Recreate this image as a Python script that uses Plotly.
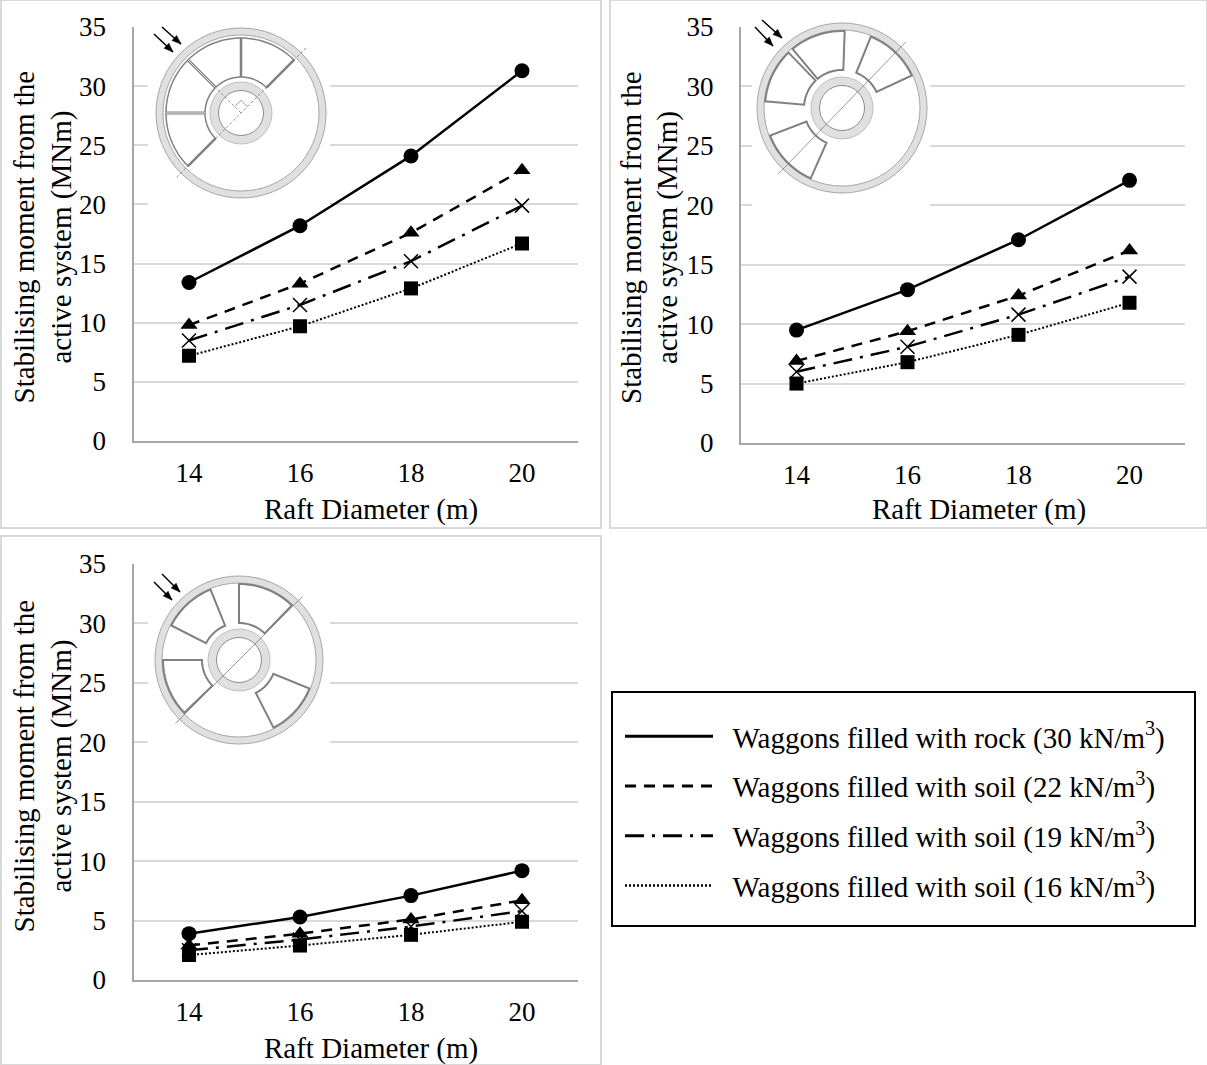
import math
import plotly.graph_objects as go

W, H = 1207, 1065
FONT = "Liberation Serif"

diameters = ["14", "16", "18", "20"]
y_ticks = [0, 5, 10, 15, 20, 25, 30, 35]

series_names = [
    "Waggons filled with rock (30 kN/m<sup>3</sup>)",
    "Waggons filled with soil (22 kN/m<sup>3</sup>)",
    "Waggons filled with soil (19 kN/m<sup>3</sup>)",
    "Waggons filled with soil (16 kN/m<sup>3</sup>)",
]
panel1_rock = [13.4, 18.2, 24.1, 31.3]
panel1_soil22 = [9.8, 13.3, 17.6, 22.9]
panel1_soil19 = [8.5, 11.5, 15.2, 19.9]
panel1_soil16 = [7.2, 9.7, 12.9, 16.7]
panel2_rock = [9.5, 12.9, 17.1, 22.1]
panel2_soil22 = [6.9, 9.4, 12.4, 16.2]
panel2_soil19 = [6.0, 8.1, 10.8, 14.0]
panel2_soil16 = [5.0, 6.8, 9.1, 11.8]
panel3_rock = [3.9, 5.3, 7.1, 9.2]
panel3_soil22 = [2.9, 3.9, 5.1, 6.7]
panel3_soil19 = [2.5, 3.4, 4.5, 5.8]
panel3_soil16 = [2.1, 2.9, 3.8, 4.9]

dashes = ["solid", "11px,8px", "19px,8px,3px,8px", "2px,2px"]
symbols = ["circle", "triangle-up", "x-thin", "square"]
msizes = [15, 15, 14, 14]

panels = [
    dict(sfx="", xa="xaxis", ya="yaxis", left=133.5, right=577.5, top=27, bottom=441, mid=237,
         xtitle_x=371, xtitle_y=509,
         series=[panel1_rock, panel1_soil22, panel1_soil19, panel1_soil16]),
    dict(sfx="2", xa="xaxis2", ya="yaxis2", left=741, right=1185, top=27, bottom=443, mid=238,
         xtitle_x=979, xtitle_y=509,
         series=[panel2_rock, panel2_soil22, panel2_soil19, panel2_soil16]),
    dict(sfx="3", xa="xaxis3", ya="yaxis3", left=133.5, right=577.5, top=564, bottom=980, mid=766,
         xtitle_x=371, xtitle_y=1048,
         series=[panel3_rock, panel3_soil22, panel3_soil19, panel3_soil16]),
]


def px(x):
    return x / W


def py(y):
    return 1 - y / H


fig = go.Figure()
shapes, annotations = [], []


def rect(x0, y0, x1, y1, line="rgba(0,0,0,0)", lw=0, fill="rgba(0,0,0,0)"):
    shapes.append(dict(type="rect", xref="paper", yref="paper", layer="above",
                       x0=px(x0), x1=px(x1), y0=py(y0), y1=py(y1),
                       line=dict(color=line, width=lw), fillcolor=fill))


def circle(cx, cy, r, line, lw, fill):
    shapes.append(dict(type="circle", xref="paper", yref="paper", layer="above",
                       x0=px(cx - r), x1=px(cx + r), y0=py(cy + r), y1=py(cy - r),
                       line=dict(color=line, width=lw), fillcolor=fill))


def path(points, line, lw, fill="rgba(0,0,0,0)", closed=False, dash="solid"):
    d = "M " + " L ".join(f"{px(a):.5f},{py(b):.5f}" for a, b in points)
    if closed:
        d += " Z"
    shapes.append(dict(type="path", xref="paper", yref="paper", layer="above", path=d,
                       line=dict(color=line, width=lw, dash=dash), fillcolor=fill))


def polar(cx, cy, r, deg):
    t = math.radians(deg)
    return (cx + r * math.cos(t), cy - r * math.sin(t))


def arc(cx, cy, r, a0, a1):
    n = max(4, int(abs(a1 - a0) / 3))
    return [polar(cx, cy, r, a0 + (a1 - a0) * i / n) for i in range(n + 1)]


def sector(cx, cy, a0, a1, r0=37, r1=75):
    path(arc(cx, cy, r1, a0, a1) + arc(cx, cy, r0, a1, a0), "#808080", 2, closed=True)


def arrow(x0, y0, x1, y1):
    path([(x0, y0), (x1, y1)], "#000000", 1.5)
    ang = math.atan2(y1 - y0, x1 - x0)
    a = (x1 - 9 * math.cos(ang) + 3.5 * math.sin(ang), y1 - 9 * math.sin(ang) - 3.5 * math.cos(ang))
    b = (x1 - 9 * math.cos(ang) - 3.5 * math.sin(ang), y1 - 9 * math.sin(ang) + 3.5 * math.cos(ang))
    path([(x1, y1), a, b], "#000000", 0.5, fill="#000000", closed=True)


def wheel(cx, cy, R=85):
    circle(cx, cy, R, "#a6a6a6", 1, "#e0e0e0")
    circle(cx, cy, R - 7, "#a6a6a6", 1, "#ffffff")
    circle(cx, cy, 31, "#bfbfbf", 1, "#e0e0e0")
    circle(cx, cy, 22.5, "#8c8c8c", 1, "#ffffff")


# panel frames
rect(1, 0, 601, 528, "#d9d9d9", 2)
rect(610, 0, 1207, 528, "#d9d9d9", 2)
rect(1, 536, 601, 1065, "#d9d9d9", 2)

# white backing that interrupts the gridlines behind the insets
rect(148, 15, 330, 206, fill="#ffffff")
rect(752, 15, 930, 208, fill="#ffffff")
rect(148, 552, 330, 748, fill="#ffffff")

# inset 1
c = (241, 113)
wheel(*c)
path(arc(*c, 75, 45, 225) + arc(*c, 36, 225, 45), "#808080", 1.5, closed=True)
for a in (45, 90, 225):
    path([polar(*c, 36, a), polar(*c, 75, a)], "#808080", 2.5)
for a in (135, 180):
    path([polar(*c, 36, a), polar(*c, 75, a)], "#808080", 3)
    path([polar(*c, 36, a), polar(*c, 75, a)], "#e6e6e6", 1)
path([polar(*c, 92, 45), polar(*c, 92, 225)], "#808080", 0.8, dash="3px,2px")
path([polar(*c, 0, 0), polar(*c, 36, 135)], "#808080", 0.8, dash="3px,2px")
path([polar(*c, 9, 135), polar(*c, 12.7, 90), polar(*c, 9, 45)], "#808080", 0.8)
arrow(162, 27, 181, 44)
arrow(154, 34, 173, 52)

# inset 2
c = (842, 108)
wheel(*c)
for a0, a1 in [(88, 130), (134, 175), (25, 68), (201, 246)]:
    sector(*c, a0, a1, r0=38, r1=77)
path([polar(*c, 92, 46), polar(*c, 92, 226)], "#808080", 0.8)
arrow(762, 20, 782, 38)
arrow(755, 27, 773, 46)

# inset 3
c = (239, 660)
wheel(*c, R=84)
for a0, a1 in [(112, 153), (46, 90), (180, 224), (-63, -22)]:
    sector(*c, a0, a1, r0=37, r1=76)
path([polar(*c, 90, 45), polar(*c, 90, 225)], "#808080", 0.8)
arrow(162, 574, 180, 592)
arrow(154, 582, 172, 600)

# legend box
rect(612, 692, 1195, 926, "#000000", 2)

layout_axes = {}
for i, p in enumerate(panels):
    xref = "x" + p["sfx"]
    yref = "y" + p["sfx"]
    for name, vals, dash, sym, ms in zip(series_names, p["series"], dashes, symbols, msizes):
        fig.add_trace(go.Scatter(
            x=diameters, y=vals, mode="lines+markers", xaxis=xref, yaxis=yref,
            name=name, showlegend=False,
            line=dict(color="#000000", width=2.5 if dash != "2px,2px" else 2, dash=dash),
            marker=dict(symbol=sym, size=ms, color="#000000",
                        line=dict(color="#000000", width=1.5 if sym == "x-thin" else 0)),
        ))
    layout_axes[p["xa"]] = dict(
        domain=[px(p["left"]), px(p["right"])], anchor=yref, type="category",
        categoryorder="array", categoryarray=diameters, range=[-0.5, 3.5],
        showgrid=False, showline=True, linecolor="#a6a6a6", linewidth=2, ticks="",
        ticklabelstandoff=7, tickfont=dict(family=FONT, size=27, color="#000000"),
        automargin=False, zeroline=False,
    )
    layout_axes[p["ya"]] = dict(
        domain=[py(p["bottom"]), py(p["top"])], anchor=xref, range=[0, 35],
        tickmode="array", tickvals=y_ticks, showgrid=True, gridcolor="#d9d9d9", gridwidth=1.5,
        showline=True, linecolor="#a6a6a6", linewidth=2, ticks="", zeroline=False,
        ticklabelstandoff=20, tickfont=dict(family=FONT, size=27, color="#000000"),
        automargin=False,
    )
    annotations.append(dict(
        text="Raft Diameter (m)", xref="paper", yref="paper",
        x=px(p["xtitle_x"]), y=py(p["xtitle_y"]),
        xanchor="center", yanchor="middle", showarrow=False,
        font=dict(family=FONT, size=29, color="#000000"),
    ))
    for text, dx in [("Stabilising moment from the", -110), ("active system (MNm)", -73)]:
        annotations.append(dict(
            text=text, xref="paper", yref="paper", x=px(p["left"] + dx), y=py(p["mid"]),
            xanchor="center", yanchor="middle", textangle=-90, showarrow=False,
            font=dict(family=FONT, size=29, color="#000000"),
        ))

# legend entries (line only, as in the reference key)
for i, (name, dash) in enumerate(zip(series_names, dashes)):
    fig.add_trace(go.Scatter(
        x=[None], y=[None], mode="lines", name="\u00a0\u00a0" + name, legendgroup=str(i),
        line=dict(color="#000000", width=3 if i < 3 else 2.5, dash=dash),
    ))

fig.update_layout(
    width=W, height=H, autosize=False,
    margin=dict(l=0, r=0, t=0, b=0, autoexpand=False),
    paper_bgcolor="#ffffff", plot_bgcolor="#ffffff",
    font=dict(family=FONT, color="#000000"),
    shapes=shapes, annotations=annotations,
    legend=dict(
        x=px(620), y=py(711), xanchor="left", yanchor="top",
        bgcolor="rgba(0,0,0,0)", borderwidth=0, itemwidth=88,
        tracegroupgap=9, font=dict(family=FONT, size=29, color="#000000"),
        itemclick=False, itemdoubleclick=False,
    ),
    **layout_axes,
)

fig.write_html("out.html", config=dict(displayModeBar=False),
               post_script="document.body.style.margin='0';document.body.style.overflow='hidden';")
